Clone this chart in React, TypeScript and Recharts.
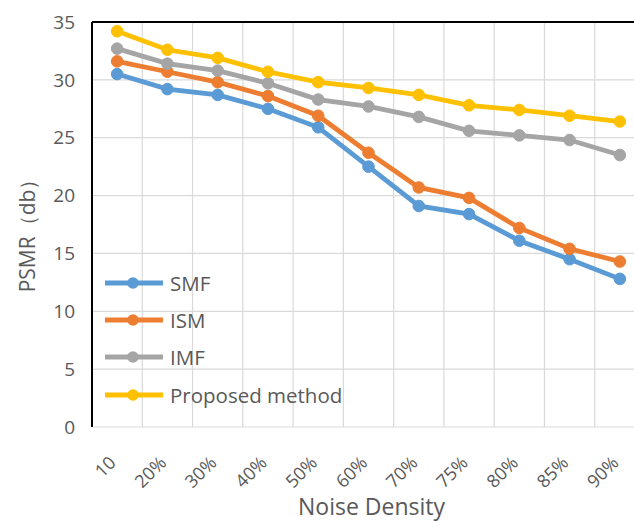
import React from 'react';
import { LineChart, Line, XAxis, YAxis, CartesianGrid, Legend, ReferenceLine, Label } from 'recharts';

const categories = ['10', '20%', '30%', '40%', '50%', '60%', '70%', '75%', '80%', '85%', '90%'];
const smf = [30.5, 29.2, 28.7, 27.5, 25.9, 22.5, 19.1, 18.4, 16.1, 14.5, 12.8];
const ism = [31.6, 30.7, 29.8, 28.6, 26.9, 23.7, 20.7, 19.8, 17.2, 15.4, 14.3];
const imf = [32.7, 31.4, 30.8, 29.7, 28.3, 27.7, 26.8, 25.6, 25.2, 24.8, 23.5];
const proposed = [34.2, 32.6, 31.9, 30.7, 29.8, 29.3, 28.7, 27.8, 27.4, 26.9, 26.4];
const yTicks = [0, 5, 10, 15, 20, 25, 30, 35];

const series = [
  { key: 'SMF', color: '#5B9BD5', values: smf },
  { key: 'ISM', color: '#ED7D31', values: ism },
  { key: 'IMF', color: '#A5A5A5', values: imf },
  { key: 'Proposed method', color: '#FFC000', values: proposed },
];

const data = categories.map((c, i) => {
  const row: any = { name: c };
  series.forEach((s) => { row[s.key] = s.values[i]; });
  return row;
});

const FONT = '"Open Sans", sans-serif';
const TEXT = '#595959';

const XTick = (props: any) => {
  const { x, y, payload } = props;
  const ay = y + 29;
  return (
    <text x={x} y={ay} textAnchor="end" transform={`rotate(-45 ${x} ${ay})`}
      fontSize={18} fill={TEXT} fontFamily={FONT}>{payload.value}</text>
  );
};

const LegendContent = (props: any) => {
  const { payload } = props;
  const items = [...(payload || [])].sort(
    (a: any, b: any) => series.findIndex((s) => s.key === a.value) - series.findIndex((s) => s.key === b.value)
  );
  return (
    <div style={{ display: 'flex', flexDirection: 'column' }}>
      {items.map((p: any) => (
        <div key={p.value} style={{ display: 'flex', alignItems: 'center', height: 37.3 }}>
          <svg width={60} height={14} style={{ display: 'block' }}>
            <line x1={1} y1={7} x2={59} y2={7} stroke={p.color} strokeWidth={4.8} />
            <circle cx={29} cy={7} r={5.8} fill={p.color} />
          </svg>
          <span style={{ marginLeft: 6, fontFamily: FONT, fontSize: 20.5, color: TEXT, whiteSpace: 'nowrap' }}>{p.value}</span>
        </div>
      ))}
    </div>
  );
};

const YLabel = (props: any) => {
  const { viewBox } = props;
  const cx = viewBox.x + 27;
  const cy = viewBox.y + viewBox.height / 2 + 6;
  return (
    <text x={cx} y={cy} textAnchor="middle" dominantBaseline="central" transform={`rotate(-90 ${cx} ${cy})`}
      fontSize={21} fill={TEXT} fontFamily={FONT}>PSMR（db）</text>
  );
};

const boundaryLines = ({ offset }: any) =>
  Array.from({ length: categories.length + 1 }, (_, i) => offset.left + (i * offset.width) / categories.length);

export default function App() {
  return (
    <div style={{ position: 'absolute', left: 0, top: 0, width: 634, height: 521, overflow: 'hidden', background: '#fff' }}>
      <LineChart width={650} height={521} data={data} margin={{ top: 22, right: 5, left: 0, bottom: 0 }}>
        <CartesianGrid stroke="#d9d9d9" strokeWidth={1.2} verticalCoordinatesGenerator={boundaryLines} />
        <XAxis dataKey="name" scale="band" height={94} tick={<XTick />} tickLine={false} axisLine={false} interval={0}>
          <Label value="Noise Density" position="insideBottom" offset={6} dx={3}
            style={{ fontSize: 23, fill: TEXT, fontFamily: FONT }} />
        </XAxis>
        <YAxis domain={[0, 35]} ticks={yTicks} width={92} tickLine={false} tickMargin={11}
          axisLine={{ stroke: '#000', strokeWidth: 2 }}
          tick={{ fontSize: 19, fill: TEXT, fontFamily: FONT }}
          label={<YLabel />} />
        <ReferenceLine y={35} stroke="#000" strokeWidth={2} />
        {series.map((s) => (
          <Line key={s.key} dataKey={s.key} name={s.key} stroke={s.color} strokeWidth={4.8}
            dot={{ r: 5.8, fill: s.color, stroke: s.color, strokeWidth: 1 }}
            activeDot={false} isAnimationActive={false} />
        ))}
        <Legend layout="vertical" align="center" verticalAlign="middle" content={<LegendContent />}
          wrapperStyle={{ left: 104, top: 264, width: 'auto', height: 'auto' }} />
      </LineChart>
    </div>
  );
}
